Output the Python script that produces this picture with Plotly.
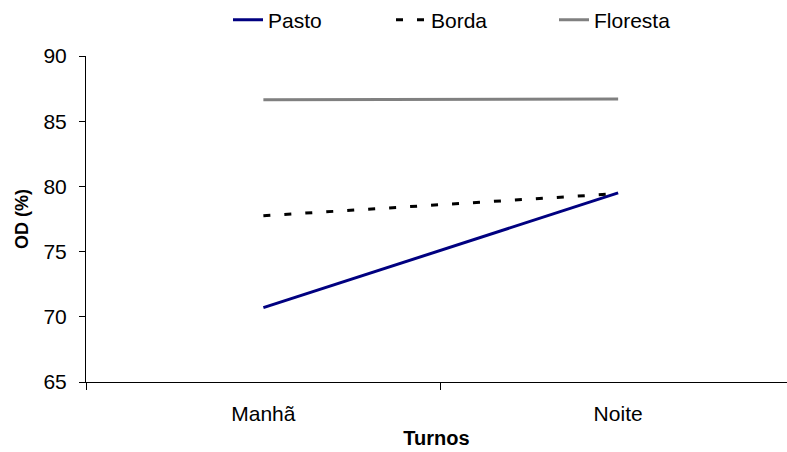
import plotly.graph_objects as go

# Oxygen saturation by shift for each habitat
turnos = ["Manhã", "Noite"]
pasto = [70.7, 79.5]
borda = [77.75, 79.45]
floresta = [86.65, 86.7]

fig = go.Figure()
fig.add_trace(go.Scatter(x=turnos, y=pasto, name="Pasto", mode="lines",
                         line=dict(color="#000080", width=3)))
fig.add_trace(go.Scatter(x=turnos, y=borda, name="Borda", mode="lines",
                         line=dict(color="#000000", width=3, dash="7px,14px")))
fig.add_trace(go.Scatter(x=turnos, y=floresta, name="Floresta", mode="lines",
                         line=dict(color="#808080", width=3)))

font = "Liberation Sans, Arial, sans-serif"
fig.update_layout(
    width=787, height=452,
    margin=dict(l=86, r=0, t=56, b=70),
    plot_bgcolor="white", paper_bgcolor="white",
    font=dict(family=font, size=21, color="black"),
    showlegend=True,
    legend=dict(orientation="h", xref="container", yref="container",
                x=228 / 787, xanchor="left", y=1 - 20 / 452, yanchor="middle",
                font=dict(size=21), entrywidth=118, entrywidthmode="pixels",
                borderwidth=0, bgcolor="rgba(0,0,0,0)"),
    xaxis=dict(type="category", range=[-0.5, 1.476], showline=True,
               linecolor="black", linewidth=1, ticks="outside",
               tickson="boundaries", ticklen=7, tickcolor="black",
               ticklabelstandoff=13,
               showgrid=False, zeroline=False,
               title=dict(text="<b>Turnos</b>", font=dict(size=20), standoff=6)),
    yaxis=dict(range=[65, 90], dtick=5, showline=True, linecolor="black",
               linewidth=1, ticks="outside", ticklen=6, tickcolor="black",
               ticklabelstandoff=8,
               showgrid=False, zeroline=False,
               title=dict(text="<b>OD (%)</b>", font=dict(size=18), standoff=10)),
)

fig.write_html("out.html")
